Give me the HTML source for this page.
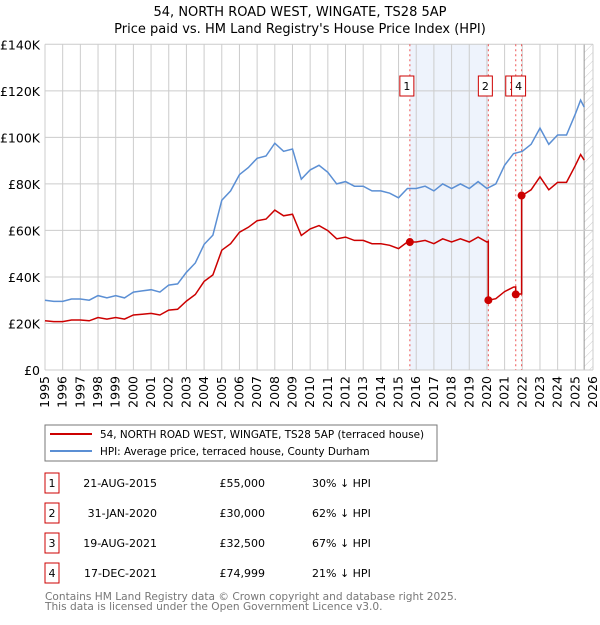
<!DOCTYPE html>
<html><head><meta charset="utf-8"><style>
body{margin:0;background:#fff;font-family:"Liberation Sans","DejaVu Sans",sans-serif;}
svg text{font-family:"DejaVu Sans","Liberation Sans",sans-serif;}
</style></head><body>
<svg id="chart" width="600" height="620" xmlns="http://www.w3.org/2000/svg">
<defs><pattern id="hatch" width="6" height="6" patternUnits="userSpaceOnUse" patternTransform="rotate(45)"><line x1="0" y1="0" x2="0" y2="6" stroke="#ccc" stroke-width="1"/></pattern></defs>
<text x="300" y="16" text-anchor="middle" font-size="13" fill="#000">54, NORTH ROAD WEST, WINGATE, TS28 5AP</text>
<text x="300" y="33" text-anchor="middle" font-size="13" fill="#000">Price paid vs. HM Land Registry's House Price Index (HPI)</text>
<g id="grid"></g><g id="marks"></g><g id="axes"></g>
<rect x="45" y="425" width="392" height="36" fill="#fff" stroke="#777"/>
<line x1="50" y1="434" x2="92" y2="434" stroke="#cc0000" stroke-width="2"/>
<text x="100" y="438" font-size="10.4">54, NORTH ROAD WEST, WINGATE, TS28 5AP (terraced house)</text>
<line x1="50" y1="451" x2="92" y2="451" stroke="#5b8fd4" stroke-width="2"/>
<text x="100" y="455" font-size="10.4">HPI: Average price, terraced house, County Durham</text>
<g id="table" font-size="11"></g>
<text x="45" y="600" font-size="10.6" fill="#777">Contains HM Land Registry data © Crown copyright and database right 2025.</text>
<text x="45" y="610" font-size="10.6" fill="#777">This data is licensed under the Open Government Licence v3.0.</text>
</svg>
<script>
const hpiYears=[1995,1995.5,1996,1996.5,1997,1997.5,1998,1998.5,1999,1999.5,2000,2000.5,2001,2001.5,2002,2002.5,2003,2003.5,2004,2004.5,2005,2005.5,2006,2006.5,2007,2007.5,2008,2008.5,2009,2009.5,2010,2010.5,2011,2011.5,2012,2012.5,2013,2013.5,2014,2014.5,2015,2015.5,2016,2016.5,2017,2017.5,2018,2018.5,2019,2019.5,2020,2020.5,2021,2021.5,2022,2022.5,2023,2023.5,2024,2024.5,2025,2025.3,2025.5];
const hpiValues=[30,29.5,29.5,30.5,30.5,30,32,31,32,31,33.5,34,34.5,33.5,36.5,37,42,46,54,58,73,77,84,87,91,92,97.5,94,95,82,86,88,85,80,81,79,79,77,77,76,74,78,78,79,77,80,78,80,78,81,78,80,88,93,94,97,104,97,101,101,110,116,113];
const saleDates=[2015.64,2020.08,2021.63,2021.96];
const salePrices=[55000,30000,32500,74999];
const saleLabels=["21-AUG-2015","31-JAN-2020","19-AUG-2021","17-DEC-2021"];
const salePriceText=["£55,000","£30,000","£32,500","£74,999"];
const saleHpiText=["30% ↓ HPI","62% ↓ HPI","67% ↓ HPI","21% ↓ HPI"];
const yTicks=[0,20,40,60,80,100,120,140];
const xTicks=[1995,1996,1997,1998,1999,2000,2001,2002,2003,2004,2005,2006,2007,2008,2009,2010,2011,2012,2013,2014,2015,2016,2017,2018,2019,2020,2021,2022,2023,2024,2025,2026];
const NS="http://www.w3.org/2000/svg";
const X=y=>45+(y-1995)*(548/31), Y=v=>370-v*(325.7/140);
function mk(p,t,a){const e=document.createElementNS(NS,t);for(const k in a)e.setAttribute(k,a[k]);p.appendChild(e);return e;}
const grid=document.getElementById('grid'),marks=document.getElementById('marks'),axes=document.getElementById('axes'),tbl=document.getElementById('table');
let sh=mk(grid,'rect',{x:X(saleDates[0]),y:Y(140),width:X(saleDates[1])-X(saleDates[0]),height:Y(0)-Y(140),fill:'#eef3fc'});

let hz=mk(grid,'rect',{x:X(2025.5),y:Y(140),width:X(2026)-X(2025.5),height:Y(0)-Y(140),fill:'url(#hatch)'});

mk(grid,'line',{x1:X(2025.5),x2:X(2025.5),y1:Y(140),y2:Y(0),stroke:'#999'});
yTicks.forEach(t=>{const l=mk(grid,'line',{x1:45,x2:X(2026),y1:Y(t),y2:Y(t),stroke:'#ccc'});
const tx=mk(axes,'text',{x:40,y:Y(t)+5,'text-anchor':'end','font-size':'12.5'});tx.textContent=t?'£'+t+'K':'£0';});
xTicks.forEach(t=>{const l=mk(grid,'line',{x1:X(t),x2:X(t),y1:Y(140),y2:Y(0),stroke:'#ccc'});
const tx=mk(axes,'text',{x:0,y:0,'text-anchor':'end','font-size':'12.5',transform:`translate(${X(t)+4},376) rotate(-90)`});tx.textContent=t;});
function hpiAt(t){for(let i=0;i<hpiYears.length-1;i++){if(t<=hpiYears[i+1]){const f=(t-hpiYears[i])/(hpiYears[i+1]-hpiYears[i]);return hpiValues[i]+f*(hpiValues[i+1]-hpiValues[i]);}}return hpiValues[hpiValues.length-1];}
saleDates.forEach((d,i)=>{const l=mk(marks,'line',{x1:X(d),x2:X(d),y1:Y(140),y2:Y(0),stroke:'#e55','stroke-width':1,'stroke-dasharray':'2,3'});});
let hp=hpiYears.map((y,i)=>X(y).toFixed(1)+','+Y(hpiValues[i]).toFixed(1)).join(' ');
const hl=mk(marks,'polyline',{points:hp,fill:'none',stroke:'#5b8fd4','stroke-width':1.5});

let pts=[];
function seg(a,b,ratio){const ts=[a].concat(hpiYears.filter(y=>y>a&&y<b)).concat([b]);ts.forEach(t=>pts.push(X(t).toFixed(1)+','+Y(hpiAt(t)*ratio).toFixed(1)));}
const r=saleDates.map((d,i)=>salePrices[i]/1000/hpiAt(d));
seg(1995,saleDates[1],r[0]);seg(saleDates[1],saleDates[2],r[1]);seg(saleDates[2],saleDates[3],r[2]);seg(saleDates[3],2025.5,r[3]);
const pl=mk(marks,'polyline',{points:pts.join(' '),fill:'none',stroke:'#cc0000','stroke-width':1.5});

saleDates.forEach((d,i)=>{const c=mk(marks,'circle',{cx:X(d),cy:Y(salePrices[i]/1000),r:4,fill:'#cc0000'});});
saleDates.forEach((d,i)=>{const g=mk(marks,'g',{});
const bx=X(d)-10;mk(g,'rect',{x:bx,y:76,width:14,height:20,fill:'#fff',stroke:'#cc0000'});const t=mk(g,'text',{x:bx+7,y:90,'text-anchor':'middle','font-size':'11'});t.textContent=i+1;});
saleDates.forEach((d,i)=>{const y=483+30*i;
const b=mk(tbl,'rect',{x:45,y:y-10,width:14,height:20,fill:'#fff',stroke:'#cc0000'});
const n=mk(tbl,'text',{x:52,y:y+4,'text-anchor':'middle'});n.textContent=i+1;
const a=mk(tbl,'text',{x:157,y:y+4,'text-anchor':'end'});a.textContent=saleLabels[i];
const p=mk(tbl,'text',{x:265,y:y+4,'text-anchor':'end'});p.textContent=salePriceText[i];
const h=mk(tbl,'text',{x:312,y:y+4});h.textContent=saleHpiText[i];});
</script>
</body></html>
